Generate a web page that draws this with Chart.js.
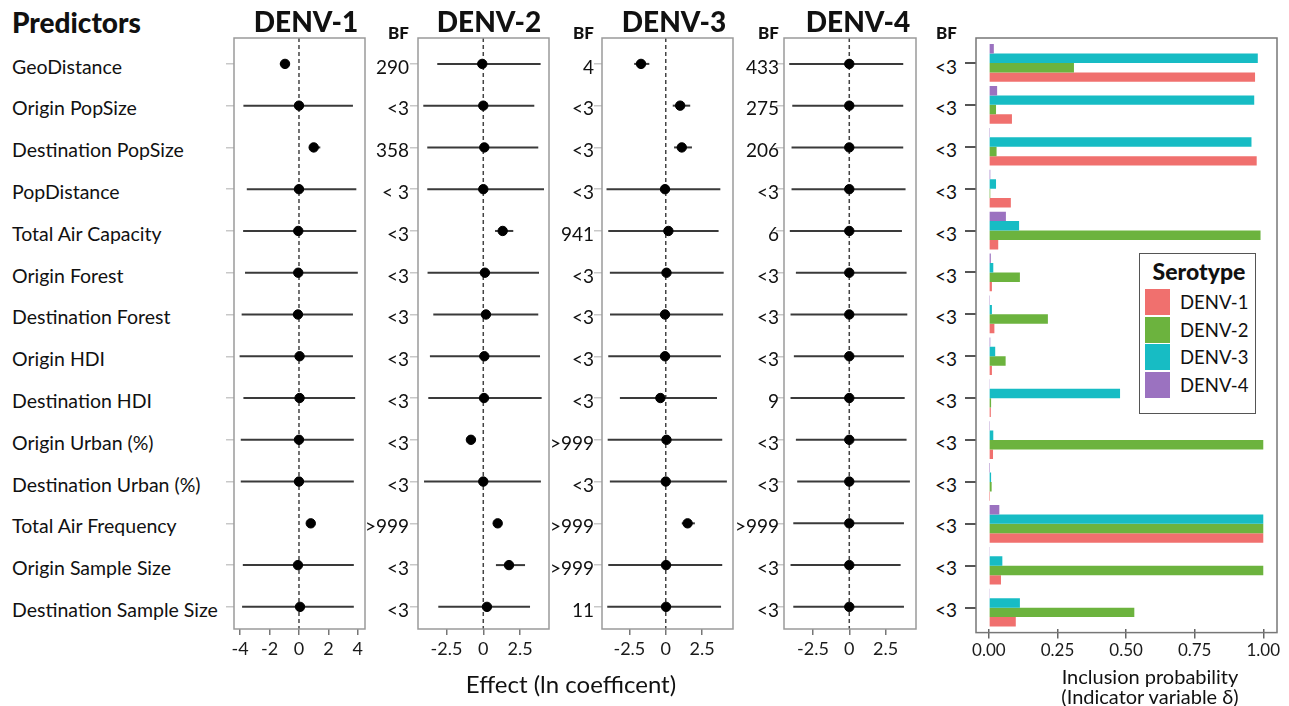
<!DOCTYPE html>
<html>
<head>
<meta charset="utf-8">
<script src="https://cdn.jsdelivr.net/npm/chart.js@4/dist/chart.umd.min.js"></script>
<style>
body{margin:0;background:#fff;font-family:Lato,sans-serif;color:#111}
#wrap{position:relative;width:1289px;height:706px;overflow:hidden}
canvas{position:absolute;top:0}
.t{position:absolute;white-space:nowrap;line-height:1}
.c{transform:translate(-50%,-50%)}
.r{transform:translate(-100%,-50%)}
.l{transform:translate(0,-50%)}
#legend{position:absolute;left:1139px;top:253px;width:115px;height:159px;border:1.5px solid #555;background:#fff}
</style>
</head>
<body>
<div id="wrap"></div>
<script>
// predictors, top to bottom
var predictors = ['GeoDistance','Origin PopSize','Destination PopSize','PopDistance','Total Air Capacity',
  'Origin Forest','Destination Forest','Origin HDI','Destination HDI','Origin Urban (%)',
  'Destination Urban (%)','Total Air Frequency','Origin Sample Size','Destination Sample Size'];

// effect sizes (ln coefficient): mean and interval
var d1Mean = [-0.95, 0, 1.0, 0, -0.05, -0.05, -0.07, 0.04, 0.04, 0, 0, 0.8, -0.07, 0.07];
var d1Lo   = [-1.3, -3.78, 0.75, -3.55, -3.8, -3.67, -3.9, -4.04, -3.78, -3.96, -3.96, 0.6, -3.82, -3.87];
var d1Hi   = [-0.65, 3.67, 1.45, 3.9, 3.9, 4.0, 3.67, 3.67, 3.82, 3.73, 3.73, 1.05, 3.73, 3.73];

var d2Mean = [-0.07, 0, 0.07, 0, 1.32, 0.11, 0.18, 0.07, 0.05, -0.84, 0, 0.98, 1.75, 0.25];
var d2Lo   = [-3.13, -4.08, -3.81, -3.81, 0.8, -3.79, -3.4, -3.63, -3.74, -1.13, -4.03, 0.75, 0.86, -3.06];
var d2Hi   = [3.9, 3.47, 3.74, 4.13, 2.04, 3.79, 3.74, 3.86, 3.97, -0.5, 3.92, 1.2, 2.84, 3.18];

var d3Mean = [-1.7, 0.99, 1.1, -0.05, 0.18, 0.05, -0.05, -0.05, -0.37, 0.05, 0, 1.5, 0.02, 0.02];
var d3Lo   = [-2.17, 0.48, 0.57, -4.07, -3.95, -3.84, -3.83, -3.95, -3.15, -3.99, -3.84, 1.1, -3.95, -4.02];
var d3Hi   = [-1.13, 1.68, 1.8, 3.75, 3.63, 3.98, 3.94, 3.79, 3.52, 3.88, 4.2, 2.0, 3.88, 3.8];

var d4Mean = [0, 0, 0, 0, 0, 0, 0, 0, 0, 0, 0, 0, 0, 0];
var d4Lo   = [-4.14, -3.93, -3.98, -3.98, -4.1, -3.68, -4.05, -3.82, -4.05, -3.68, -3.59, -3.86, -4.05, -3.86];
var d4Hi   = [3.72, 3.72, 3.72, 3.88, 3.63, 3.95, 4.0, 3.77, 3.82, 3.95, 4.18, 3.77, 3.54, 3.77];

// Bayes factors
var bf1 = ['290','<3','358','< 3','<3','<3','<3','<3','<3','<3','<3','>999','<3','<3'];
var bf2 = ['4','<3','<3','<3','941','<3','<3','<3','<3','>999','<3','>999','>999','11'];
var bf3 = ['433','275','206','<3','6','<3','<3','<3','9','<3','<3','>999','<3','<3'];
var bf4 = ['<3','<3','<3','<3','<3','<3','<3','<3','<3','<3','<3','<3','<3','<3'];

// inclusion probabilities
var inc1 = [0.97, 0.084, 0.976, 0.08, 0.034, 0.011, 0.02, 0.011, 0.007, 0.015, 0.001, 1.0, 0.044, 0.098];
var inc2 = [0.31, 0.026, 0.028, 0.005, 0.99, 0.113, 0.215, 0.061, 0.008, 1.0, 0.01, 1.0, 1.0, 0.53];
var inc3 = [0.98, 0.967, 0.957, 0.026, 0.11, 0.016, 0.011, 0.023, 0.478, 0.016, 0.008, 1.0, 0.049, 0.113];
var inc4 = [0.018, 0.03, 0.004, 0.005, 0.062, 0.007, 0.004, 0.005, 0.002, 0.004, 0.001, 0.038, 0.002, 0.002];

var serotypes = ['DENV-1','DENV-2','DENV-3','DENV-4'];
var colors = ['#F0706E','#6CB33E','#17BCC4','#9B72C0'];
var ticksD1 = [-4, -2, 0, 2, 4];
var ticksD = [-2.5, 0, 2.5];
var ticksProb = [0, 0.25, 0.5, 0.75, 1];

var wrap = document.getElementById('wrap');
function rowY(i){ return 63.5 + i * 41.8; }

function text(s, x, y, cls, style){
  var d = document.createElement('div');
  d.className = 't ' + cls;
  d.textContent = s;
  d.style.left = x + 'px'; d.style.top = y + 'px';
  if (style) d.style.cssText += style;
  wrap.appendChild(d);
  return d;
}
function canvas(left, w, h){
  var c = document.createElement('canvas');
  c.width = w; c.height = h;
  c.style.left = left + 'px'; c.style.width = w + 'px'; c.style.height = h + 'px';
  wrap.appendChild(c);
  return c;
}

var boxPlugin = {
  id: 'box',
  afterDatasetsDraw: function(chart, args, opts){
    var a = chart.chartArea, ctx = chart.ctx, p = opts.pad || 0;
    ctx.save();
    ctx.strokeStyle = opts.color; ctx.lineWidth = 1.5;
    ctx.strokeRect(a.left, a.top - p, a.right - a.left, a.bottom - a.top + 2 * p);
    ctx.restore();
  }
};

function forest(boxL, boxR, mean, lo, hi, tks, xmin, xmax){
  var c = canvas(boxL - 14, boxR - boxL + 24, 680);
  var ds = [{
    data: mean.map(function(v, i){ return {x: v, y: i}; }),
    pointRadius: 4.7, pointBackgroundColor: '#000', pointBorderColor: '#000', order: 0
  }];
  lo.forEach(function(v, i){
    ds.push({data: [{x: v, y: i}, {x: hi[i], y: i}], showLine: true, pointRadius: 0,
      borderColor: '#3a3a3a', borderWidth: 2, order: 1});
  });
  ds.push({data: [{x: 0, y: -0.62}, {x: 0, y: 13.53}], showLine: true, pointRadius: 0,
    borderColor: '#444', borderWidth: 1.5, borderDash: [4, 3], order: 2});
  new Chart(c, {
    type: 'scatter',
    data: {datasets: ds},
    plugins: [boxPlugin],
    options: {
      responsive: false, animation: false,
      layout: {padding: {left: 4, right: 10, top: 38, bottom: 0}},
      plugins: {legend: {display: false}, tooltip: {enabled: false}, box: {color: '#9a9a9a'}},
      scales: {
        x: {type: 'linear', min: xmin, max: xmax,
          afterBuildTicks: function(s){ s.ticks = tks.map(function(v){ return {value: v}; }); },
          afterFit: function(s){ s.height = 51; },
          border: {display: false},
          grid: {drawOnChartArea: false, tickLength: 6, color: '#777', lineWidth: 1.5},
          ticks: {autoSkip: false, maxRotation: 0, padding: 3, color: '#1a1a1a',
            font: {family: 'Lato', size: 18}, callback: function(v){ return String(v); }}},
        y: {type: 'linear', reverse: true, min: -0.62, max: 13.53,
          afterBuildTicks: function(s){ s.ticks = predictors.map(function(p, i){ return {value: i}; }); },
          afterFit: function(s){ s.width = 10; },
          border: {display: false},
          grid: {drawOnChartArea: false, tickLength: 8, color: '#c8c8c8', lineWidth: 1.5},
          ticks: {display: false}}
      }
    }
  });
}

forest(234, 365, d1Mean, d1Lo, d1Hi, ticksD1, -4.42, 4.49);
forest(418, 549, d2Mean, d2Lo, d2Hi, ticksD, -4.44, 4.47);
forest(602, 733, d3Mean, d3Lo, d3Hi, ticksD, -4.38, 4.62);
forest(784, 916, d4Mean, d4Lo, d4Hi, ticksD, -4.5, 4.6);

// inclusion probability bars
var bc = canvas(960, 329, 680);
new Chart(bc, {
  type: 'bar',
  data: {
    labels: predictors,
    datasets: [
      {label: serotypes[3], data: inc4, backgroundColor: colors[3]},
      {label: serotypes[2], data: inc3, backgroundColor: colors[2]},
      {label: serotypes[1], data: inc2, backgroundColor: colors[1]},
      {label: serotypes[0], data: inc1, backgroundColor: colors[0]}
    ]
  },
  plugins: [boxPlugin],
  options: {
    indexAxis: 'y', responsive: false, animation: false,
    categoryPercentage: 0.9, barPercentage: 1.0,
    layout: {padding: {left: 4, right: 12, top: 42, bottom: 0}},
    plugins: {legend: {display: false}, tooltip: {enabled: false}, box: {color: '#777', pad: 4}},
    scales: {
      x: {type: 'linear', min: -0.047, max: 1.05,
        afterBuildTicks: function(s){ s.ticks = ticksProb.map(function(v){ return {value: v}; }); },
        afterFit: function(s){ s.height = 51.4; },
        border: {display: false},
        grid: {drawOnChartArea: false, tickLength: 10, color: '#666', lineWidth: 1.5},
        ticks: {autoSkip: false, maxRotation: 0, padding: 2, color: '#1a1a1a',
          font: {family: 'Lato', size: 17}, callback: function(v){ return v.toFixed(2); }}},
      y: {type: 'category', offset: true,
        afterFit: function(s){ s.width = 12; },
        border: {display: false},
        grid: {offset: false, drawOnChartArea: false, tickLength: 11, color: '#555', lineWidth: 2},
        ticks: {display: false}}
    }
  }
});

// texts
text('Predictors', 12, 22, 'l', 'font-weight:900;font-size:28px;');
predictors.forEach(function(p, i){ text(p, 12, rowY(i) + 3, 'l', 'font-size:19.5px;'); });
[[306, 'DENV-1'], [489, 'DENV-2'], [674, 'DENV-3'], [858, 'DENV-4']].forEach(function(t){
  text(t[1], t[0], 21, 'c', 'font-weight:900;font-size:28px;');
});
[[409, bf1], [594, bf2], [779, bf3], [957, bf4]].forEach(function(col){
  text('BF', col[0], 32, 'r', 'font-weight:900;font-size:17px;');
  col[1].forEach(function(s, i){ text(s, col[0], rowY(i) + 2, 'r', 'font-size:19px;'); });
});
text('Effect (ln coefficent)', 571, 684, 'c', 'font-size:24px;');
text('Inclusion probability', 1150, 676, 'c', 'font-size:20px;');
text('(Indicator variable \u03b4)', 1150, 696, 'c', 'font-size:20px;');

// legend
var lg = document.createElement('div');
lg.id = 'legend';
wrap.appendChild(lg);
text('Serotype', 1199, 271, 'c', 'font-weight:900;font-size:23px;');
serotypes.forEach(function(s, i){
  var sw = document.createElement('div');
  sw.style.cssText = 'position:absolute;left:1145px;width:25px;height:26px;background:' + colors[i] + ';top:' + (289 + i * 27.5) + 'px';
  wrap.appendChild(sw);
  text(s, 1180, 302 + i * 27.5, 'l', 'font-size:18.5px;');
});
</script>
</body>
</html>
